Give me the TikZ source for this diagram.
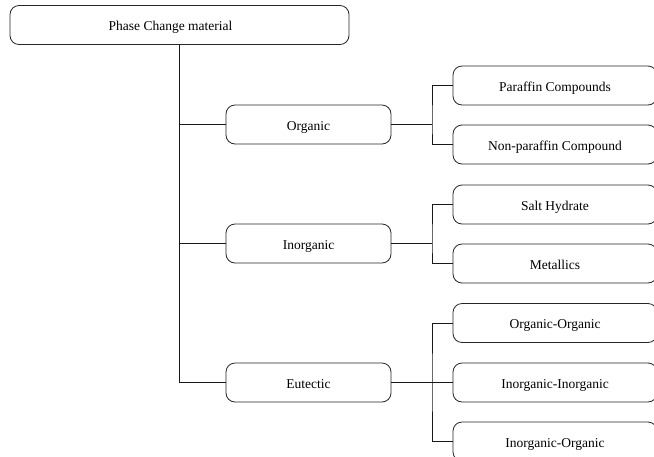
\documentclass[tikz,border=0pt]{standalone}
\usepackage{fontspec}
\setmainfont{Liberation Serif}
\begin{document}
\begin{tikzpicture}[x=1pt,y=-1pt,
  box/.style={draw=black!85,line width=0.8pt,rounded corners=9pt,minimum height=39pt,inner sep=0pt,text height=12pt,text depth=1pt,font=\fontsize{13.5}{16}\selectfont},
  topbox/.style={box,minimum width=339pt},
  midbox/.style={box,minimum width=165pt},
  leafbox/.style={box,minimum width=204pt},
  conn/.style={draw=black!90,line width=0.8pt}]
\useasboundingbox (0,0) rectangle (654,456);
\clip (0,0) rectangle (654,456);
\node[topbox] (top) at (179.5,25) {Phase Change material\kern18pt};
\node[midbox] (org) at (308.5,124.5) {Organic};
\node[midbox] (inorg) at (308.5,243.5) {Inorganic};
\node[midbox] (eut) at (308.5,382.5) {Eutectic};
\node[leafbox] (par) at (555,85.5) {Paraffin Compounds};
\node[leafbox] (npar) at (555,144.5) {Non-paraffin Compound};
\node[leafbox] (salt) at (555,204.5) {Salt Hydrate};
\node[leafbox] (met) at (555,263.5) {Metallics};
\node[leafbox] (oo) at (555,323) {Organic-Organic};
\node[leafbox] (ii) at (555,382.5) {Inorganic-Inorganic};
\node[leafbox] (io) at (555,441.5) {Inorganic-Organic};
% trunk
\coordinate (tOrg) at (top.south |- org.west);
\coordinate (tInorg) at (top.south |- inorg.west);
\coordinate (tEut) at (top.south |- eut.west);
\draw[conn] (top.south) -- (tEut) -- (eut.west);
\draw[conn] (tOrg) -- (org.west);
\draw[conn] (tInorg) -- (inorg.west);
% brackets
\coordinate (bOrg) at (432,124.5);
\coordinate (bInorg) at (432,243.5);
\coordinate (bEut) at (432,382.5);
\draw[conn] (org.east) -- (bOrg);
\draw[conn] (par.west) -| (bOrg) |- (npar.west);
\draw[conn] (inorg.east) -- (bInorg);
\draw[conn] (salt.west) -| (bInorg) |- (met.west);
\draw[conn] (eut.east) -- (ii.west);
\draw[conn] (oo.west) -| (bEut) |- (io.west);
\end{tikzpicture}
\end{document}
